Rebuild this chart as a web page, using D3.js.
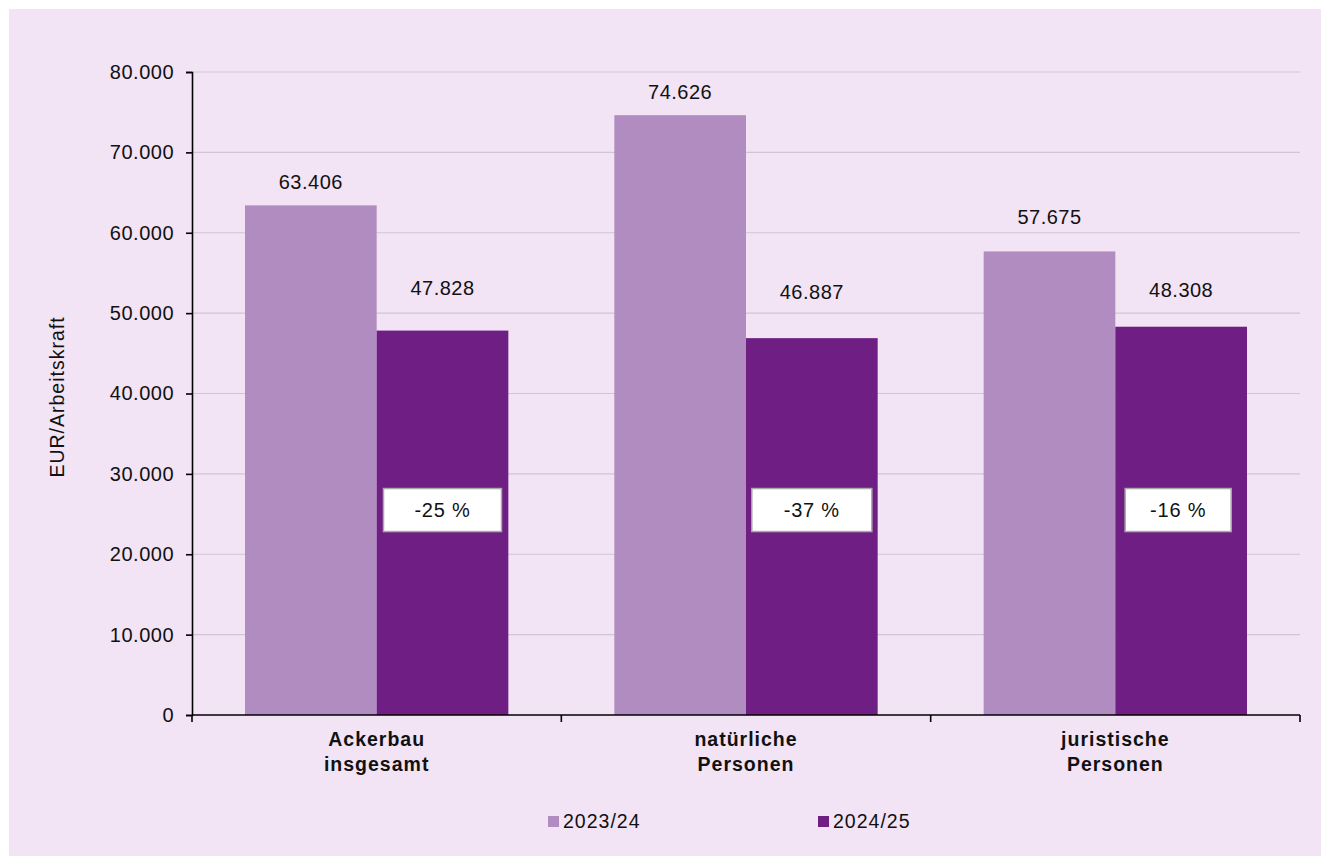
<!DOCTYPE html>
<html><head><meta charset="utf-8">
<script src="https://cdn.jsdelivr.net/npm/d3@7"></script>
<style>
html,body{margin:0;padding:0;background:#fff;}
svg{display:block;font-family:"Liberation Sans",Arial,sans-serif;}
</style></head>
<body>
<svg id="chart" width="1321" height="856"></svg>
<script>
// ---- data ----
const categories = [["Ackerbau","insgesamt"],["natürliche","Personen"],["juristische","Personen"]];
const seriesNames = ["2023/24","2024/25"];
const values2023 = [63406, 74626, 57675];
const values2024 = [47828, 46887, 48308];
const changeLabels = ["-25 %","-37 %","-16 %"];
const yTicks = [0,10000,20000,30000,40000,50000,60000,70000,80000];

(function(){
// ---- layout ----
const colors = ["#B08CC0","#6F1F83"];
const labelGap = [[16,36],[16,39],[27,30]];
const boxWidths = [118,120,106];
const fmt = v => d3.format(",")(v).replace(/,/g,".");

const svg = d3.select("#chart");
svg.append("rect").attr("x",9).attr("y",9).attr("width",1312).attr("height",847).attr("fill","#F2E3F5");

const pL=192, pR=1300, pT=72, pB=715;
const x0 = d3.scaleBand().domain(d3.range(categories.length)).range([pL,pR]).paddingInner(0).paddingOuter(0);
const groupPad = 0.1435;
const x1 = d3.scaleBand().domain([0,1]).range([x0.bandwidth()*groupPad, x0.bandwidth()*(1-groupPad)]);
const y = d3.scaleLinear().domain([0,80000]).range([pB,pT]);

// gridlines
svg.append("g").selectAll("line").data(yTicks.filter(d=>d>0)).join("line")
  .attr("x1",pL).attr("x2",pR).attr("y1",d=>y(d)).attr("y2",d=>y(d))
  .attr("stroke","#CFC6D2").attr("stroke-width",1.2);

// bars
const data = categories.map((c,i)=>({i, vals:[values2023[i],values2024[i]]}));
const g = svg.append("g").selectAll("g").data(data).join("g").attr("transform",d=>`translate(${x0(d.i)},0)`);
g.selectAll("rect").data(d=>d.vals.map((v,s)=>({v,s}))).join("rect")
  .attr("x",d=>x1(d.s)).attr("width",x1.bandwidth())
  .attr("y",d=>y(d.v)).attr("height",d=>pB-y(d.v)).attr("fill",d=>colors[d.s]);

// value labels
g.each(function(d){
  d.vals.forEach((v,s)=>{
    d3.select(this).append("text").attr("x",x1(s)+x1.bandwidth()/2).attr("y",y(v)-labelGap[d.i][s])
      .attr("text-anchor","middle").attr("font-size",20).attr("letter-spacing",0.5).attr("fill","#111").text(fmt(v));
  });
});

// change boxes
g.each(function(d){
  const cx = x1(1)+x1.bandwidth()/2 - (d.i===2?3:0);
  const cy = y(25500);
  const w = boxWidths[d.i], h=43;
  d3.select(this).append("rect").attr("x",cx-w/2).attr("y",cy-h/2).attr("width",w).attr("height",h)
    .attr("fill","#fff").attr("stroke","#AAAAAA").attr("stroke-width",1.5);
  d3.select(this).append("text").attr("x",cx).attr("y",cy+7).attr("text-anchor","middle")
    .attr("font-size",20).attr("letter-spacing",0.8).attr("fill","#111").text(changeLabels[d.i]);
});

// y axis
const yAxis = svg.append("g").attr("transform",`translate(${pL},0)`)
  .call(d3.axisLeft(y).tickValues(yTicks).tickSize(6).tickPadding(12).tickFormat(fmt));
yAxis.select(".domain").attr("stroke","#000").attr("stroke-width",1.6);
yAxis.selectAll(".tick line").attr("stroke","#000").attr("stroke-width",1.6);
yAxis.selectAll("text").attr("font-size",20).attr("letter-spacing",0.5).attr("fill","#111").attr("font-family","Liberation Sans, Arial, sans-serif");

// x axis
const xa = svg.append("g");
xa.append("line").attr("x1",pL).attr("x2",pR).attr("y1",pB).attr("y2",pB).attr("stroke","#000").attr("stroke-width",1.6);
xa.selectAll("line.t").data(d3.range(categories.length+1)).join("line").attr("class","t")
  .attr("x1",i=>pL+i*x0.bandwidth()).attr("x2",i=>pL+i*x0.bandwidth())
  .attr("y1",pB).attr("y2",pB+7).attr("stroke","#000").attr("stroke-width",1.6);
xa.selectAll("text.c").data(data).join("text").attr("class","c")
  .attr("x",d=>x0(d.i)+x0.bandwidth()/2).attr("y",746)
  .attr("text-anchor","middle").attr("font-size",19.5).attr("letter-spacing",1).attr("font-weight","bold").attr("fill","#111")
  .each(function(d){
    categories[d.i].forEach((line,k)=>{
      d3.select(this).append("tspan").attr("x",x0(d.i)+x0.bandwidth()/2).attr("dy",k===0?0:25).text(line);
    });
  });

// y title
svg.append("text").attr("transform","translate(64,397) rotate(-90)").attr("text-anchor","middle")
  .attr("font-size",19.5).attr("letter-spacing",1).attr("fill","#111").text("EUR/Arbeitskraft");

// legend
const legX=[548,818];
seriesNames.forEach((n,s)=>{
  svg.append("rect").attr("x",legX[s]).attr("y",816).attr("width",11).attr("height",11).attr("fill",colors[s]);
  svg.append("text").attr("x",legX[s]+15).attr("y",828).attr("font-size",19.5).attr("letter-spacing",1).attr("fill","#111").text(n);
});
})();
</script>
</body></html>
